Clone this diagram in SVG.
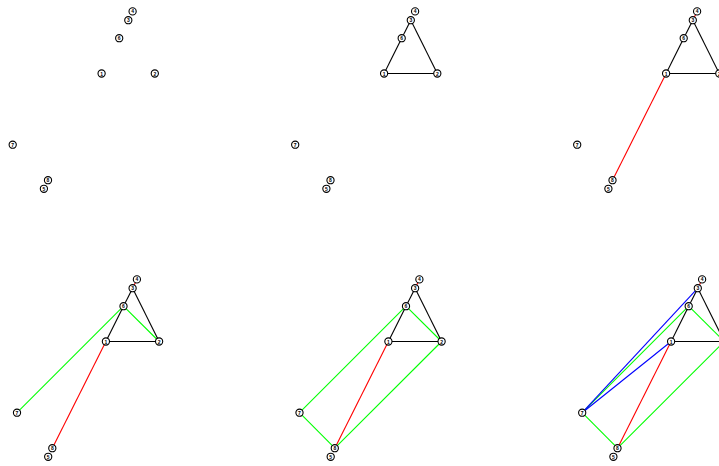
<svg xmlns="http://www.w3.org/2000/svg" width="719" height="466" viewBox="0 0 719 466">
<style>
.n circle{fill:#fff;stroke:#000;stroke-width:1.1}
.n text{font-family:"Liberation Sans",Arial,sans-serif;font-size:5px;font-weight:bold;text-anchor:middle;dominant-baseline:central;fill:#000}
.e line{stroke-width:1.1;fill:none}
.k{stroke:#000}.r{stroke:#ff0000}.g{stroke:#00ff00}.b{stroke:#0000ff}
</style>
<rect width="719" height="466" fill="#fff"/>
<defs>
<g id="nodes">
<g class="n"><circle cx="101.6" cy="73.5" r="3.6"/><text x="101.6" y="73.5">1</text></g>
<g class="n"><circle cx="154.8" cy="73.5" r="3.6"/><text x="154.8" y="73.5">2</text></g>
<g class="n"><circle cx="128.3" cy="20.2" r="3.6"/><text x="128.3" y="20.2">3</text></g>
<g class="n"><circle cx="132.6" cy="11.4" r="3.6"/><text x="132.6" y="11.4">4</text></g>
<g class="n"><circle cx="43.9" cy="188.8" r="3.6"/><text x="43.9" y="188.8">5</text></g>
<g class="n"><circle cx="119.2" cy="38.2" r="3.6"/><text x="119.2" y="38.2">6</text></g>
<g class="n"><circle cx="12.7" cy="144.7" r="3.6"/><text x="12.7" y="144.7">7</text></g>
<g class="n"><circle cx="48" cy="180.2" r="3.6"/><text x="48" y="180.2">8</text></g>
</g>
</defs>
<g id="panel1" transform="translate(0,0)">
<g id="p1-connectors" class="e"></g>
<g id="p1-nodes"><use href="#nodes"/></g>
</g>
<g id="panel2" transform="translate(282.5,0)">
<g id="p2-connectors" class="e">
<line class="k" x1="128.3" y1="20.2" x2="119.2" y2="38.2"/>
<line class="k" x1="119.2" y1="38.2" x2="101.6" y2="73.5"/>
<line class="k" x1="101.6" y1="73.5" x2="154.8" y2="73.5"/>
<line class="k" x1="154.8" y1="73.5" x2="128.3" y2="20.2"/>
</g>
<g id="p2-nodes"><use href="#nodes"/></g>
</g>
<g id="panel3" transform="translate(564.5,0)">
<g id="p3-connectors" class="e">
<line class="k" x1="128.3" y1="20.2" x2="119.2" y2="38.2"/>
<line class="k" x1="119.2" y1="38.2" x2="101.6" y2="73.5"/>
<line class="k" x1="101.6" y1="73.5" x2="154.8" y2="73.5"/>
<line class="k" x1="154.8" y1="73.5" x2="128.3" y2="20.2"/>
<line class="r" x1="101.6" y1="73.5" x2="48" y2="180.2"/>
<line class="r" x1="128.3" y1="20.2" x2="132.6" y2="11.4"/>
</g>
<g id="p3-nodes"><use href="#nodes"/></g>
</g>
<g id="panel4" transform="translate(4.3,268)">
<g id="p4-connectors" class="e">
<line class="k" x1="128.3" y1="20.2" x2="119.2" y2="38.2"/>
<line class="k" x1="119.2" y1="38.2" x2="101.6" y2="73.5"/>
<line class="k" x1="101.6" y1="73.5" x2="154.8" y2="73.5"/>
<line class="k" x1="154.8" y1="73.5" x2="128.3" y2="20.2"/>
<line class="r" x1="101.6" y1="73.5" x2="48" y2="180.2"/>
<line class="r" x1="128.3" y1="20.2" x2="132.6" y2="11.4"/>
<line class="g" x1="119.2" y1="38.2" x2="12.7" y2="144.7"/>
<line class="g" x1="119.2" y1="38.2" x2="154.8" y2="73.5"/>
</g>
<g id="p4-nodes"><use href="#nodes"/></g>
</g>
<g id="panel5" transform="translate(286.8,268)">
<g id="p5-connectors" class="e">
<line class="k" x1="128.3" y1="20.2" x2="119.2" y2="38.2"/>
<line class="k" x1="119.2" y1="38.2" x2="101.6" y2="73.5"/>
<line class="k" x1="101.6" y1="73.5" x2="154.8" y2="73.5"/>
<line class="k" x1="154.8" y1="73.5" x2="128.3" y2="20.2"/>
<line class="r" x1="101.6" y1="73.5" x2="48" y2="180.2"/>
<line class="r" x1="128.3" y1="20.2" x2="132.6" y2="11.4"/>
<line class="g" x1="119.2" y1="38.2" x2="12.7" y2="144.7"/>
<line class="g" x1="119.2" y1="38.2" x2="154.8" y2="73.5"/>
<line class="g" x1="12.7" y1="144.7" x2="48" y2="180.2"/>
<line class="g" x1="48" y1="180.2" x2="154.8" y2="73.5"/>
</g>
<g id="p5-nodes"><use href="#nodes"/></g>
</g>
<g id="panel6" transform="translate(569.5,268)">
<g id="p6-connectors" class="e">
<line class="k" x1="128.3" y1="20.2" x2="119.2" y2="38.2"/>
<line class="k" x1="119.2" y1="38.2" x2="101.6" y2="73.5"/>
<line class="k" x1="101.6" y1="73.5" x2="154.8" y2="73.5"/>
<line class="k" x1="154.8" y1="73.5" x2="128.3" y2="20.2"/>
<line class="r" x1="101.6" y1="73.5" x2="48" y2="180.2"/>
<line class="r" x1="128.3" y1="20.2" x2="132.6" y2="11.4"/>
<line class="g" x1="119.2" y1="38.2" x2="12.7" y2="144.7"/>
<line class="g" x1="119.2" y1="38.2" x2="154.8" y2="73.5"/>
<line class="g" x1="12.7" y1="144.7" x2="48" y2="180.2"/>
<line class="g" x1="48" y1="180.2" x2="154.8" y2="73.5"/>
<line class="b" x1="12.7" y1="144.7" x2="128.3" y2="20.2"/>
<line class="b" x1="12.7" y1="144.7" x2="101.6" y2="73.5"/>
</g>
<g id="p6-nodes"><use href="#nodes"/></g>
</g>
</svg>
